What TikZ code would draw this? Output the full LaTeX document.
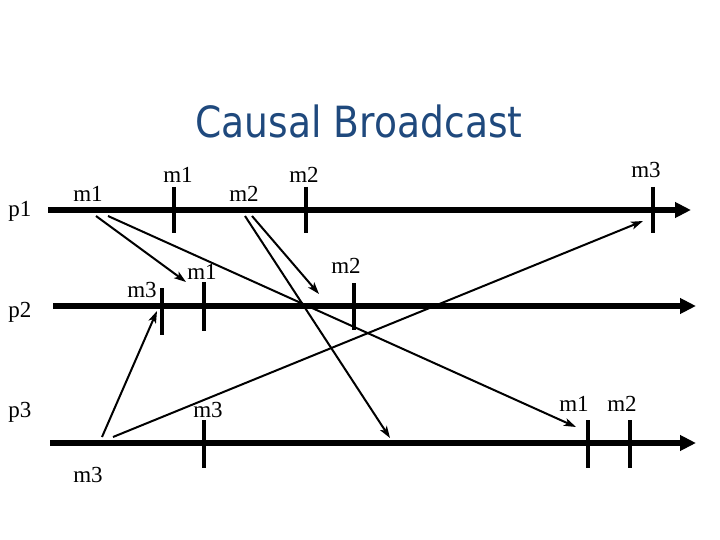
\documentclass[tikz,border=0pt]{standalone}
\usepackage{fontspec}
\setmainfont{Liberation Serif}
\newfontfamily\titlefont{DejaVu Sans}
\usetikzlibrary{arrows.meta}
\definecolor{titleblue}{RGB}{31,73,125}
\begin{document}
\begin{tikzpicture}[x=1pt,y=-1pt,
  proc/.style={line width=6pt,-{Triangle[length=16pt,width=15pt]}},
  tickmark/.style={line width=4.5pt},
  msg/.style={line width=2pt,-{Stealth[length=12pt,width=8pt,inset=3pt]}},
  lbl/.style={font=\fontsize{23}{26}\selectfont,anchor=base,inner sep=0pt},
]
\useasboundingbox (0,0) rectangle (720,540);
% title
\node[font=\titlefont\fontsize{43}{50}\selectfont,text=titleblue,anchor=base,inner sep=0pt] (title) at (359,138) {\scalebox{0.875}[1]{Causal Broadcast}};
% process lines
\coordinate (p1s) at (48,210); \coordinate (p1e) at (691,210);
\coordinate (p2s) at (53,306); \coordinate (p2e) at (696,306);
\coordinate (p3s) at (50,443); \coordinate (p3e) at (696,443);
\draw[proc] (p1s) -- (p1e);
\draw[proc] (p2s) -- (p2e);
\draw[proc] (p3s) -- (p3e);
\node[lbl] (lp1) at (20,217) {p1};
\node[lbl] (lp2) at (20,317) {p2};
\node[lbl] (lp3) at (20,417) {p3};
% ticks p1
\coordinate (t11a) at (174,187); \coordinate (t11b) at (174,233);
\coordinate (t12a) at (306,187); \coordinate (t12b) at (306,233);
\coordinate (t13a) at (653,187); \coordinate (t13b) at (653,233);
\draw[tickmark] (t11a) -- (t11b);
\draw[tickmark] (t12a) -- (t12b);
\draw[tickmark] (t13a) -- (t13b);
% ticks p2
\coordinate (t21a) at (162,288); \coordinate (t21b) at (162,335);
\coordinate (t22a) at (204,282); \coordinate (t22b) at (204,331);
\coordinate (t23a) at (354,283); \coordinate (t23b) at (354,330);
\draw[tickmark] (t21a) -- (t21b);
\draw[tickmark] (t22a) -- (t22b);
\draw[tickmark] (t23a) -- (t23b);
% ticks p3
\coordinate (t31a) at (204,420); \coordinate (t31b) at (204,468);
\coordinate (t32a) at (588,420); \coordinate (t32b) at (588,468);
\coordinate (t33a) at (630,420); \coordinate (t33b) at (630,468);
\draw[tickmark] (t31a) -- (t31b);
\draw[tickmark] (t32a) -- (t32b);
\draw[tickmark] (t33a) -- (t33b);
% messages
\coordinate (m1s1) at (96,216);  \coordinate (m1r2) at (186,282);
\coordinate (m1s2) at (108,216); \coordinate (m1r3) at (576,427);
\coordinate (m2s1) at (252,216); \coordinate (m2r2) at (319,294);
\coordinate (m2s2) at (245,216); \coordinate (m2r3) at (390,438);
\coordinate (m3s1) at (102,437); \coordinate (m3r2) at (157,311);
\coordinate (m3s2) at (113,437); \coordinate (m3r1) at (643,221);
\draw[msg] (m1s1) -- (m1r2);
\draw[msg] (m1s2) -- (m1r3);
\draw[msg] (m2s1) -- (m2r2);
\draw[msg] (m2s2) -- (m2r3);
\draw[msg] (m3s1) -- (m3r2);
\draw[msg] (m3s2) -- (m3r1);
% labels
\node[lbl] (l1) at (88,202) {m1};
\node[lbl] (l2) at (178,183) {m1};
\node[lbl] (l3) at (244,202) {m2};
\node[lbl] (l4) at (304,183) {m2};
\node[lbl] (l5) at (646,178) {m3};
\node[lbl] (l6) at (202,279) {m1};
\node[lbl] (l7) at (142,297) {m3};
\node[lbl] (l8) at (346,273) {m2};
\node[lbl] (l9) at (208,417) {m3};
\node[lbl] (l10) at (88,482) {m3};
\node[lbl] (l11) at (574,411) {m1};
\node[lbl] (l12) at (622,411) {m2};
\end{tikzpicture}
\end{document}
